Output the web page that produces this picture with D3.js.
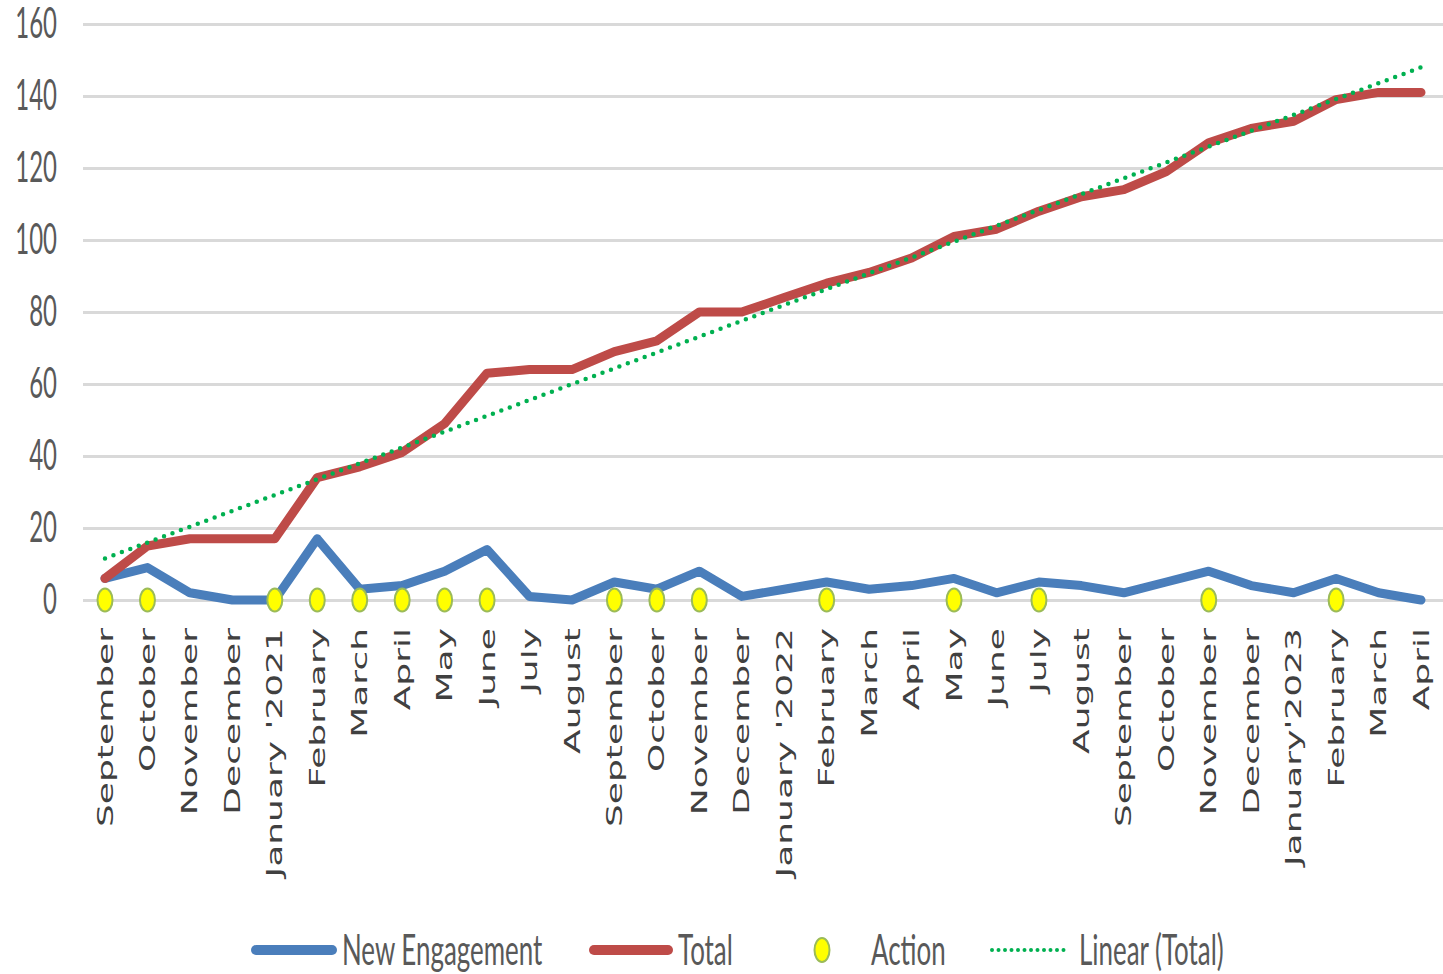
<!DOCTYPE html>
<html>
<head>
<meta charset="utf-8">
<script src="https://cdn.jsdelivr.net/npm/d3@7"></script>
<style>
  body { margin: 0; background: #fff; }
  svg { display: block; }
</style>
</head>
<body>
<svg id="chart"></svg>
<script>
const categories = ["September", "October", "November", "December", "January '2021", "February", "March", "April",
  "May", "June", "July", "August", "September", "October", "November", "December", "January '2022", "February",
  "March", "April", "May", "June", "July", "August", "September", "October", "November", "December",
  "January'2023", "February", "March", "April"];

const newEngagement = [6, 9, 2, 0, 0, 17, 3, 4, 8, 14, 1, 0, 5, 3, 8, 1, 3, 5, 3, 4, 6, 2, 5, 4, 2, 5, 8, 4, 2, 6, 2, 0];
const total = [6, 15, 17, 17, 17, 34, 37, 41, 49, 63, 64, 64, 69, 72, 80, 80, 84, 88, 91, 95, 101, 103, 108, 112,
  114, 119, 127, 131, 133, 139, 141, 141];
// action marker sits on the zero line, null = no action that month
const action = [0, 0, null, null, 0, 0, 0, 0, 0, 0, null, null, 0, 0, 0, null, null, 0, null, null, 0, null, 0,
  null, null, null, 0, null, null, 0, null, null];

const yTicks = [0, 20, 40, 60, 80, 100, 120, 140, 160];
const legendItems = ["New Engagement", "Total", "Action", "Linear (Total)"];

const W = 1443, H = 974;
const blue = "#4a7ebb", red = "#be4b48", green = "#00b050";
const stretch = 1.75; // the picture is drawn tall, text is stretched vertically

const svg = d3.select("#chart").attr("width", W).attr("height", H);

const x = d3.scalePoint().domain(d3.range(categories.length)).range([105, 1421]);
const y = d3.scaleLinear().domain([0, 160]).range([600, 24]);

// gridlines + y labels
const yAxis = svg.append("g")
  .attr("transform", "translate(83,0)")
  .call(d3.axisLeft(y).tickValues(yTicks).tickSize(-(W - 83)).tickPadding(26));
yAxis.select(".domain").remove();
yAxis.selectAll(".tick line").attr("stroke", "#d9d9d9").attr("stroke-width", 3);
yAxis.selectAll(".tick text")
  .attr("font-family", "Lato, 'Open Sans', sans-serif")
  .attr("font-size", 24)
  .attr("fill", "#595959")
  .attr("transform", `scale(1,${stretch})`);

// x labels, rotated and stretched along their length
svg.append("g").selectAll("text")
  .data(categories)
  .join("text")
  .attr("transform", (d, i) => `translate(${x(i)},628) rotate(-90) scale(1.8,1.05)`)
  .attr("text-anchor", "end")
  .attr("dy", "0.36em")
  .attr("font-family", "'DejaVu Sans', Verdana, sans-serif")
  .attr("font-size", 20)
  .attr("fill", "#404040")
  .text(d => d);

const line = d3.line().x((d, i) => x(i)).y(d => y(d));

svg.append("path")
  .datum(newEngagement)
  .attr("d", line)
  .attr("fill", "none")
  .attr("stroke", blue)
  .attr("stroke-width", 9)
  .attr("stroke-linejoin", "round")
  .attr("stroke-linecap", "round");

svg.append("path")
  .datum(total)
  .attr("d", line)
  .attr("fill", "none")
  .attr("stroke", red)
  .attr("stroke-width", 9)
  .attr("stroke-linejoin", "round")
  .attr("stroke-linecap", "round");

// least squares trend of the total
const idx = d3.range(total.length);
const mx = d3.mean(idx), my = d3.mean(total);
const slope = d3.sum(idx, i => (i - mx) * (total[i] - my)) / d3.sum(idx, i => (i - mx) ** 2);
const intercept = my - slope * mx;
const trend = idx.map(i => intercept + slope * i);

svg.append("path")
  .datum(trend)
  .attr("d", line)
  .attr("fill", "none")
  .attr("stroke", green)
  .attr("stroke-width", 4.5)
  .attr("stroke-dasharray", "0 9")
  .attr("stroke-linecap", "round");

svg.append("g").selectAll("ellipse")
  .data(action.map((v, i) => ({ v, i })).filter(d => d.v !== null))
  .join("ellipse")
  .attr("cx", d => x(d.i))
  .attr("cy", d => y(d.v))
  .attr("rx", 7.5)
  .attr("ry", 11.5)
  .attr("fill", "#ffff00")
  .attr("stroke", "#9bbb59")
  .attr("stroke-width", 2);

// legend
const legend = svg.append("g");
const ly = 950;
const legendText = (tx, label) => legend.append("text")
  .attr("transform", `translate(${tx},${ly}) scale(1.08,${stretch})`)
  .attr("dy", "0.36em")
  .attr("font-family", "Lato, 'Open Sans', sans-serif")
  .attr("font-size", 24)
  .attr("fill", "#595959")
  .text(label);

legend.append("line").attr("x1", 256).attr("x2", 332).attr("y1", ly).attr("y2", ly)
  .attr("stroke", blue).attr("stroke-width", 10).attr("stroke-linecap", "round");
legendText(342, legendItems[0]);

legend.append("line").attr("x1", 594).attr("x2", 668).attr("y1", ly).attr("y2", ly)
  .attr("stroke", red).attr("stroke-width", 10).attr("stroke-linecap", "round");
legendText(678, legendItems[1]);

legend.append("ellipse").attr("cx", 822).attr("cy", ly).attr("rx", 7.5).attr("ry", 12)
  .attr("fill", "#ffff00").attr("stroke", "#9bbb59").attr("stroke-width", 2);
legendText(871, legendItems[2]);

legend.append("line").attr("x1", 992).attr("x2", 1068).attr("y1", ly).attr("y2", ly)
  .attr("stroke", green).attr("stroke-width", 4).attr("stroke-dasharray", "0 6.5").attr("stroke-linecap", "round");
legendText(1079, legendItems[3]);
</script>
</body>
</html>
